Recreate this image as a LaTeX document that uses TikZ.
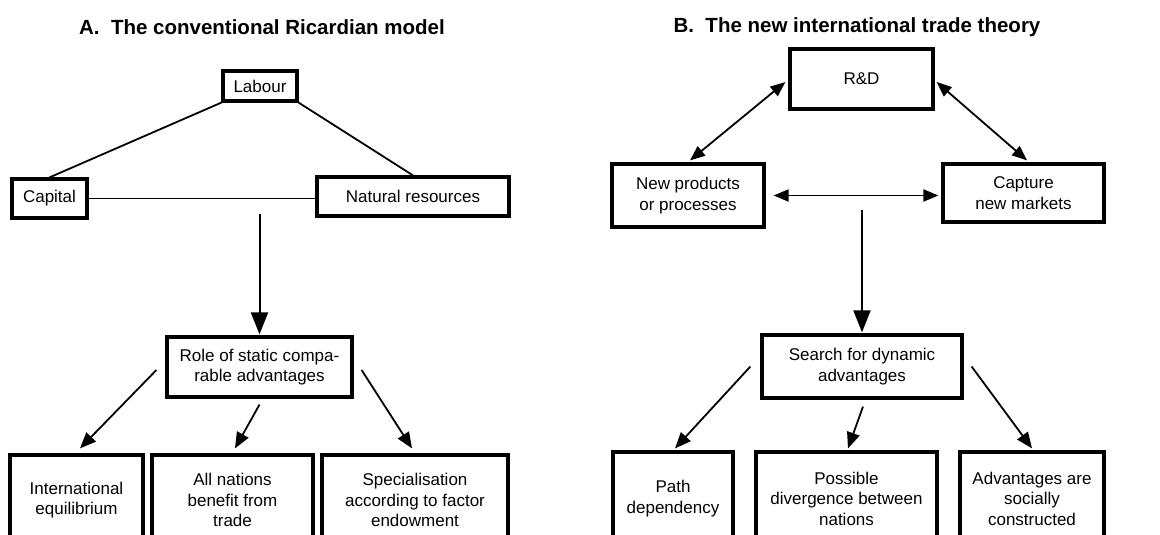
\documentclass[tikz,border=0pt]{standalone}
\usepackage{fontspec}
\setmainfont{Liberation Sans}
\usetikzlibrary{arrows.meta}

\tikzset{
  box/.style={draw, line width=3.2pt, inner sep=0pt, align=center,
    font=\fontsize{17}{20.5}\selectfont},
  heading/.style={font=\bfseries\fontsize{20.5}{23}\selectfont, inner sep=0pt},
  link/.style={line width=1.8pt},
  arr/.style={line width=1.8pt, -{Triangle[length=16pt,width=13pt]}},
  biarr/.style={line width=1.8pt, {Triangle[length=15pt,width=12pt]}-{Triangle[length=15pt,width=12pt]}},
  mainarr/.style={line width=2pt, -{Triangle[length=22pt,width=17pt]}},
}

\begin{document}
\begin{tikzpicture}[x=1pt, y=-1pt]
\useasboundingbox (0,0) rectangle (1160,535);
\clip (0,0) rectangle (1160,535);

% ---------- A. The conventional Ricardian model ----------
\node[heading] (titleA) at (262,27) {A.\ \ The conventional Ricardian model};

\node[box, minimum width=74pt,  minimum height=30pt] (lab) at (260,86) {Labour};
\node[box, minimum width=75pt,  minimum height=39pt] (cap) at (49.5,198.5) {Capital};
\node[box, minimum width=192pt, minimum height=39pt] (nat) at (413,196.5) {Natural resources};

\draw[link] (lab.south west) -- (cap.north);
\draw[link] (lab.south east) -- (nat.north);
\draw[link] (cap.east) -- (cap.east -| nat.west);

\node[box, minimum width=185pt, minimum height=60pt] (role) at (259.5,367)
  {Role of static compa-\\rable advantages};

\coordinate (forkA) at (role.north |- cap.east);
\draw[mainarr, shorten >=1pt] ([yshift=-15pt]forkA) -- (role.north);

\node[box, minimum width=133pt, minimum height=90pt] (intl) at (76.5,500)
  {International\\equilibrium};
\node[box, minimum width=161pt, minimum height=90pt] (all) at (232.5,500)
  {All nations\\benefit from\\trade};
\node[box, minimum width=186pt, minimum height=90pt] (spec) at (415,500)
  {Specialisation\\according to factor\\endowment};

\draw[arr] ([shift={(-9pt,-3pt)}]role.west) -- ([shift={(3.5pt,5pt)}]intl.north);
\draw[arr] ([shift={(0pt,-6pt)}]role.south) -- ([shift={(2.5pt,5pt)}]all.north);
\draw[arr] ([shift={(8pt,-3pt)}]role.east) -- ([shift={(-3pt,5pt)}]spec.north);

% ---------- B. The new international trade theory ----------
\node[heading] (titleB) at (857,27) {B.\ \ The new international trade theory};

\node[box, minimum width=143pt, minimum height=60pt] (rd) at (861.5,79) {R\&D};
\node[box, minimum width=152pt, minimum height=63pt] (np) at (688,195.5)
  {New products\\or processes};
\node[box, minimum width=161pt, minimum height=58pt] (cm) at (1023.5,193)
  {Capture\\new markets};

\draw[biarr] ([shift={(-3pt,-3pt)}]rd.west) -- ([shift={(2pt,2pt)}]np.north);
\draw[biarr] ([shift={(2pt,-3pt)}]rd.east) -- ([shift={(3.5pt,2pt)}]cm.north);
\draw[biarr, shorten <=8pt, shorten >=3pt] (np.east) -- (np.east -| cm.west);

\node[box, minimum width=200pt, minimum height=63pt] (search) at (862,366.5)
  {Search for dynamic\\advantages};

\coordinate (forkB) at (search.north |- np.east);
\draw[mainarr, shorten >=1pt] ([yshift=-14pt]forkB) -- (search.north);

\node[box, minimum width=120pt, minimum height=93pt] (path) at (673,498.5)
  {Path\\dependency};
\node[box, minimum width=181pt, minimum height=93pt] (poss) at (846.5,498.5)
  {Possible\\divergence between\\nations};
\node[box, minimum width=144pt, minimum height=93pt] (adv) at (1032,498.5)
  {Advantages are\\socially\\constructed};

\draw[arr] ([shift={(-10pt,0pt)}]search.west) -- ([shift={(2pt,2pt)}]path.north);
\draw[arr] ([shift={(1pt,-7pt)}]search.south) -- ([shift={(1.5pt,2pt)}]poss.north);
\draw[arr] ([shift={(8pt,0pt)}]search.east) -- ([shift={(0pt,2pt)}]adv.north);
\end{tikzpicture}
\end{document}
